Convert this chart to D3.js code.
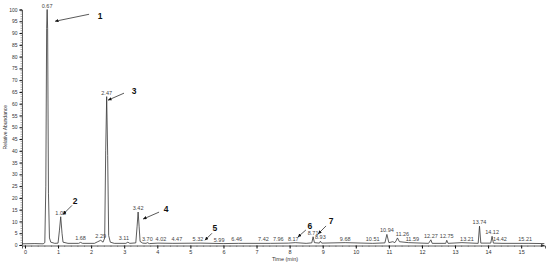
<!DOCTYPE html>
<html>
<head>
<script src='https://cdn.jsdelivr.net/npm/d3@7'></script>
<style>
  html, body { margin: 0; padding: 0; background: #fff; overflow: hidden; }
  text { font-family: 'Liberation Sans', Arial, sans-serif; }
</style>
</head>
<body>
<script>
// chromatogram trace: [time (min), relative abundance]
const trace = [
  [-0.09, 0.5], [0.30, 0.6], [0.55, 0.5], [0.60, 1.0], [0.63, 25], [0.655, 92], [0.67, 100], [0.685, 92], [0.71, 22], [0.74, 3], [0.78, 1.2], [0.90, 0.7],
  [1.00, 0.8], [1.04, 6], [1.08, 12], [1.12, 5], [1.15, 1.2], [1.30, 0.7],
  [1.62, 0.7], [1.68, 1.1], [1.74, 0.7], [2.10, 0.7], [2.20, 1.4], [2.29, 2.0], [2.36, 1.2],
  [2.41, 3], [2.44, 40], [2.47, 63], [2.50, 38], [2.53, 4], [2.58, 1.2], [2.70, 0.7],
  [3.05, 0.7], [3.11, 1.2], [3.17, 0.7], [3.35, 0.9], [3.39, 8], [3.42, 14], [3.45, 8], [3.48, 1.5], [3.56, 0.8],
  [3.66, 0.7], [3.70, 1.0], [3.76, 0.6], [4.02, 0.8], [4.47, 0.7], [5.32, 0.8], [5.99, 0.6], [6.46, 0.7],
  [7.42, 0.7], [7.96, 0.8], [8.17, 1.0], [8.50, 0.7], [8.67, 0.9], [8.71, 3.5], [8.75, 1.0],
  [8.90, 0.8], [8.93, 1.6], [8.97, 0.8], [9.68, 1.0], [10.51, 0.7], [10.88, 0.9], [10.94, 4.5], [11.00, 1.0],
  [11.12, 1.4], [11.18, 1.0], [11.22, 1.8], [11.26, 3.0], [11.32, 1.4], [11.59, 1.0], [12.20, 0.7], [12.27, 2.2], [12.31, 0.7],
  [12.72, 0.7], [12.75, 2.0], [12.79, 0.7], [13.21, 1.0], [13.70, 0.7], [13.74, 8], [13.78, 0.8],
  [14.08, 0.8], [14.12, 3.7], [14.16, 0.8], [14.42, 0.7], [15.21, 0.7], [15.70, 0.6]
];

// retention time labels and the height they sit on
const peakTimes =   [0.67, 1.08, 1.68, 2.29, 2.47, 3.11, 3.42, 3.70, 4.02, 4.47, 5.32, 5.99, 6.46, 7.42, 7.96, 8.17, 8.71, 8.93, 9.68, 10.51, 10.94, 11.26, 11.59, 12.27, 12.75, 13.21, 13.74, 14.12, 14.42, 15.21];
const peakHeights = [100, 12, 1.1, 2.0, 63, 1.2, 14, 1.0, 0.8, 0.7, 0.8, 0.6, 0.7, 0.7, 0.8, 1.0, 3.5, 1.6, 1.0, 0.7, 4.5, 3.0, 1.0, 2.2, 2.0, 1.0, 8, 3.7, 0.7, 0.7];

// numbered compounds: label and where the arrow points (time, abundance)
const compoundIds = ['1', '2', '3', '4', '5', '6', '7'];
const compoundTimes = [0.91, 1.15, 2.51, 3.57, 5.44, 8.25, 8.86];
const compoundHeights = [95, 13, 61.5, 11, 2, 3.4, 4.7];

const xTicks = d3.range(0, 16);
const yTicks = d3.range(0, 101, 5);

const width = 550, height = 264;
const svg = d3.select('body').append('svg').attr('width', width).attr('height', height);

const x = d3.scaleLinear().domain([-0.09, 15.72]).range([22, 545]);
const y = d3.scaleLinear().domain([0, 100]).range([245, 9.5]);

// y axis
const yAxis = svg.append('g').attr('transform', `translate(${x(-0.09)},0)`)
  .call(d3.axisLeft(y).tickValues(yTicks).tickSize(2.5).tickPadding(2));
yAxis.selectAll('text').attr('font-size', 5).attr('fill', '#333');
yAxis.append('g').selectAll('line').data(d3.range(0, 101, 1)).join('line')
  .attr('x1', 0).attr('x2', -1.5).attr('y1', d => y(d)).attr('y2', d => y(d)).attr('stroke', '#555').attr('stroke-width', 0.5);

// x axis
const xAxis = svg.append('g').attr('transform', `translate(0,${y(0) + 0.5})`)
  .call(d3.axisBottom(x).tickValues(xTicks).tickSize(3).tickPadding(2).tickFormat(d3.format('d')));
xAxis.selectAll('text').attr('font-size', 5.5).attr('fill', '#333');
xAxis.append('g').selectAll('line').data(d3.range(0, 15.7, 0.2)).join('line')
  .attr('x1', d => x(d)).attr('x2', d => x(d)).attr('y1', 0).attr('y2', 1.5).attr('stroke', '#555').attr('stroke-width', 0.5);
svg.selectAll('.domain').attr('stroke', '#333').attr('stroke-width', 0.8);
xAxis.append('path').attr('d', `M${x(15.72)},0 l-4,-1.5 l0,3 z`).attr('fill', '#333');

svg.append('text').attr('transform', `translate(7,${y(50)}) rotate(-90)`)
  .attr('text-anchor', 'middle').attr('font-size', 5).attr('fill', '#333').text('Relative Abundance');
svg.append('text').attr('x', 285).attr('y', 261).attr('text-anchor', 'middle')
  .attr('font-size', 5.5).attr('fill', '#333').text('Time (min)');

// trace
svg.append('path').datum(trace)
  .attr('d', d3.line().x(d => x(d[0])).y(d => y(d[1])))
  .attr('fill', 'none').attr('stroke', '#333').attr('stroke-width', 0.8);

// retention time labels (a few nudged sideways so they don't collide)
const nudge = { 3.11: -4, 4.02: 3, 4.47: 4, 5.32: -3, 5.99: -4, 6.46: -2, 7.42: -7, 7.96: -10, 8.17: -2,
                11.26: 5, 11.59: 4, 13.21: 5, 14.42: -2, 15.21: -3 };
svg.append('g').selectAll('text').data(peakTimes).join('text')
  .attr('x', d => x(d) + (nudge[d] || 0)).attr('y', (d, i) => y(peakHeights[i]) - 2)
  .attr('text-anchor', 'middle').attr('font-size', 5.5).attr('fill', '#444')
  .text(d => d.toFixed(2));

// numbered arrows
svg.append('defs').append('marker').attr('id', 'head')
  .attr('viewBox', '0 -5 10 10').attr('refX', 10).attr('refY', 0)
  .attr('markerWidth', 5).attr('markerHeight', 5).attr('orient', 'auto')
  .append('path').attr('d', 'M0,-5L10,0L0,5').attr('fill', '#111');

// [text dx, text dy, tail dx, tail dy] relative to the arrow tip
const offsets = [[45, -2, 34, -7], [12, -10, 9, -9], [26, -6, 16, -7], [23, -7, 16, -7],
                 [10, -9, 7, -7], [12, -8, 8, -7], [13, -10, 8, -8]];
const ann = svg.append('g').selectAll('g').data(compoundIds).join('g');
ann.append('line')
  .attr('x1', (d, i) => x(compoundTimes[i]) + offsets[i][2])
  .attr('y1', (d, i) => y(compoundHeights[i]) + offsets[i][3])
  .attr('x2', (d, i) => x(compoundTimes[i]))
  .attr('y2', (d, i) => y(compoundHeights[i]))
  .attr('stroke', '#111').attr('stroke-width', 0.7).attr('marker-end', 'url(#head)');
ann.append('text')
  .attr('x', (d, i) => x(compoundTimes[i]) + offsets[i][0])
  .attr('y', (d, i) => y(compoundHeights[i]) + offsets[i][1])
  .attr('text-anchor', 'middle').attr('font-size', 8.5).attr('font-weight', 'bold').attr('fill', '#111')
  .text(d => d);
</script>
</body>
</html>
